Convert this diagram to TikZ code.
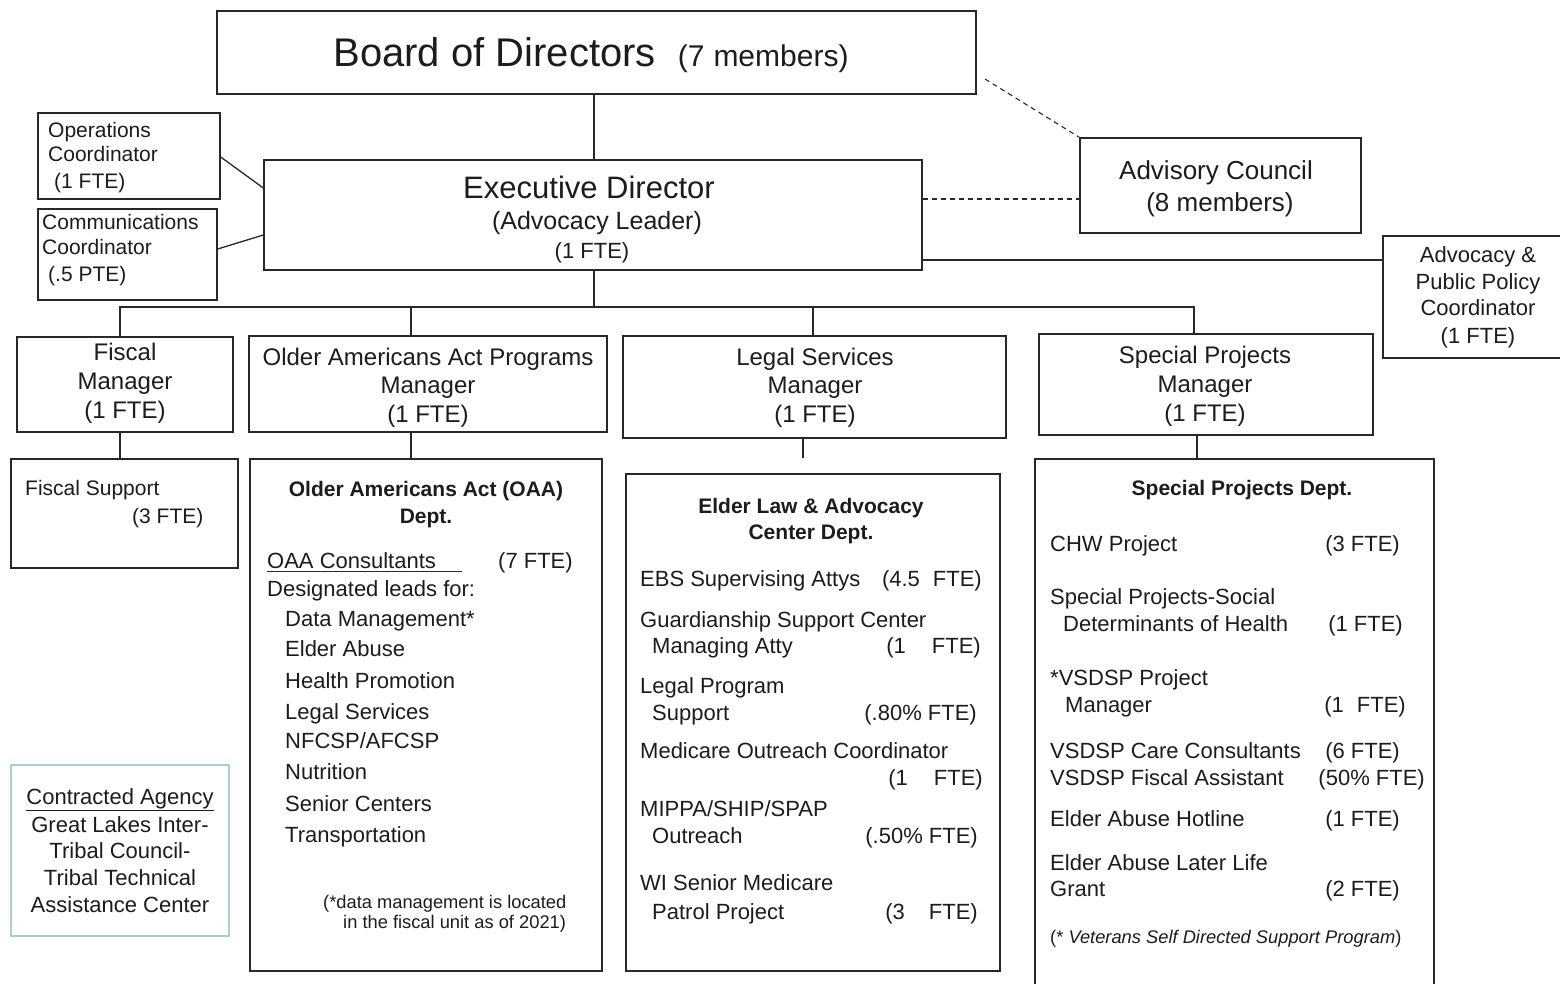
\documentclass[tikz,border=0pt]{standalone}
\usepackage{fontspec}
\setmainfont{Liberation Sans}
\usetikzlibrary{fit}
\definecolor{ink}{RGB}{28,28,28}
\definecolor{edge}{RGB}{40,40,40}
\definecolor{agency}{RGB}{168,206,212}
\newcommand\fsz[1]{\fontsize{#1pt}{#1pt}\selectfont}
\begin{document}
\begin{tikzpicture}[x=1pt,y=-1pt,
  box/.style={draw=edge, line width=1.4pt, inner sep=0pt},
  conn/.style={draw=edge, line width=1.3pt},
  dconn/.style={draw=edge, line width=1.1pt, dash pattern=on 5pt off 4pt},
  tl/.style={inner sep=0pt, anchor=base west, text=ink},
  tc/.style={inner sep=0pt, anchor=base, text=ink},
  tr/.style={inner sep=0pt, anchor=base east, text=ink},
]
\useasboundingbox (0,0) rectangle (1560,984);
\fill[white] (0,0) rectangle (1560,984);
\clip (0,0) rectangle (1560,984);

% ---------- boxes ----------
\node[box, fit={(217,11) (976,94)}] (board) {};
\node[box, fit={(264,160) (922,270)}] (exec) {};
\node[box, fit={(38,113) (220,199)}] (ops) {};
\node[box, fit={(38,209) (217,300)}] (comm) {};
\node[box, fit={(1080,138) (1361,233)}] (adv) {};
\node[box, fit={(1383,236) (1575,358)}] (app) {};
\node[box, fit={(17,337) (233,432)}] (fm) {};
\node[box, fit={(249,336) (607,432)}] (oaam) {};
\node[box, fit={(623,336) (1006,438)}] (lsm) {};
\node[box, fit={(1039,334) (1373,435)}] (spm) {};
\node[box, fit={(11,459) (238,568)}] (fs) {};
\node[box, fit={(250,459) (602,971)}] (oaad) {};
\node[box, fit={(626,474) (1000,971)}] (eld) {};
\node[box, fit={(1035,459) (1434,1000)}] (spd) {};
\node[box, draw=agency, line width=1.2pt, fit={(11,765) (229,936)}] (ca) {};

% ---------- connectors ----------
\draw[conn] (board.south -| 594,0) -- (exec.north -| 594,0);
\draw[conn] (ops.east |- 0,157) -- (exec.west |- 0,188);
\draw[conn] (comm.east |- 0,249) -- (exec.west |- 0,235);
\coordinate (bd) at (985,79);
\draw[dconn] (bd) -- (adv.north west);
\draw[dconn] (exec.east |- 0,199) -- (adv.west |- 0,199);
\draw[conn] (exec.east |- 0,260) -- (app.west |- 0,260);
\draw[conn] (exec.south -| 594,0) -- (594,307) coordinate (bus);
\draw[conn] (fm.north -| 120,0) |- (bus) -| (spm.north -| 1194,0);
\draw[conn] (bus -| 411,0) -- (oaam.north -| 411,0);
\draw[conn] (bus -| 813,0) -- (lsm.north -| 813,0);
\draw[conn] (fm.south -| 120,0) -- (fs.north -| 120,0);
\draw[conn] (oaam.south -| 411,0) -- (oaad.north -| 411,0);
\coordinate (lsend) at (803,458);
\draw[conn] (lsm.south -| 803,0) -- (lsend);
\draw[conn] (spm.south -| 1197,0) -- (spd.north -| 1197,0);

% ---------- top texts ----------
\node[tc] (tb) at (591,67) {\fsz{40}Board of Directors\hspace{22pt}\fsz{30}(7\hspace{9pt}members)};
\node[tc] (te1) at (589,199) {\fsz{31}Executive Director};
\node[tc] (te2) at (597,230) {\fsz{25}(Advocacy Leader)};
\node[tc] (te3) at (592,259) {\fsz{22}(1 FTE)};

\node[tl] (to1) at (48,138) {\fsz{21}Operations};
\node[tl] (to2) at (48,162) {\fsz{21}Coordinator};
\node[tl] (to3) at (54,189) {\fsz{21}(1 FTE)};
\node[tl] (tc1) at (42,230) {\fsz{21}Communications};
\node[tl] (tc2) at (42,255) {\fsz{21}Coordinator};
\node[tl] (tc3) at (48,281) {\fsz{21}(.5 PTE)};

\node[tc] (ta1) at (1216,180) {\fsz{26}Advisory Council};
\node[tc] (ta2) at (1220,212) {\fsz{26}(8 members)};

\node[tc] (tp1) at (1478,262) {\fsz{22}Advocacy \&};
\node[tc] (tp2) at (1478,289) {\fsz{22}Public Policy};
\node[tc] (tp3) at (1478,315) {\fsz{22}Coordinator};
\node[tc] (tp4) at (1478,343) {\fsz{22}(1 FTE)};

% ---------- managers ----------
\node[tc] (tf1) at (125,360) {\fsz{24}Fiscal};
\node[tc] (tf2) at (125,389) {\fsz{24}Manager};
\node[tc] (tf3) at (125,418) {\fsz{24}(1 FTE)};
\node[tc] (tm1) at (428,365) {\fsz{24}Older Americans Act Programs};
\node[tc] (tm2) at (428,393) {\fsz{24}Manager};
\node[tc] (tm3) at (428,422) {\fsz{24}(1 FTE)};
\node[tc] (tl1) at (815,365) {\fsz{24}Legal Services};
\node[tc] (tl2) at (815,393) {\fsz{24}Manager};
\node[tc] (tl3) at (815,422) {\fsz{24}(1 FTE)};
\node[tc] (ts1) at (1205,363) {\fsz{24}Special Projects};
\node[tc] (ts2) at (1205,392) {\fsz{24}Manager};
\node[tc] (ts3) at (1205,421) {\fsz{24}(1 FTE)};

% ---------- fiscal support ----------
\node[tl] (tfs1) at (25,495) {\fsz{21}Fiscal Support};
\node[tl] (tfs2) at (132,523) {\fsz{21}(3 FTE)};

% ---------- OAA dept ----------
\node[tc] (tod1) at (426,496) {\fsz{21}\bfseries Older Americans Act (OAA)};
\node[tc] (tod2) at (426,523) {\fsz{21}\bfseries Dept.};
\node[tl] (toc) at (267,568) {\fsz{22}OAA Consultants};
\draw[edge, line width=1pt] ([yshift=-3pt]toc.base west) -- ++(195,0);
\node[tl] (tocf) at (498,568) {\fsz{22}(7 FTE)};
\node[tl] (tdl) at (267,596) {\fsz{22}Designated leads for:};
\node[tl] (ti1) at (285,626) {\fsz{22}Data Management*};
\node[tl] (ti2) at (285,656) {\fsz{22}Elder Abuse};
\node[tl] (ti3) at (285,688) {\fsz{22}Health Promotion};
\node[tl] (ti4) at (285,719) {\fsz{22}Legal Services};
\node[tl] (ti5) at (285,748) {\fsz{22}NFCSP/AFCSP};
\node[tl] (ti6) at (285,779) {\fsz{22}Nutrition};
\node[tl] (ti7) at (285,811) {\fsz{22}Senior Centers};
\node[tl] (ti8) at (285,842) {\fsz{22}Transportation};
\node[tl] (tn1) at (323,908) {\fsz{18.3}(*data management is located};
\node[tl] (tn2) at (343,928) {\fsz{18.3}in the fiscal unit as of 2021)};

% ---------- Elder Law dept ----------
\node[tc] (te_h1) at (811,513) {\fsz{21}\bfseries Elder Law \& Advocacy};
\node[tc] (te_h2) at (811,539) {\fsz{21}\bfseries Center Dept.};
\node[tl] (tel1) at (640,586) {\fsz{22}EBS Supervising Attys};
\node[tr] (tel1f) at (982,586) {\fsz{22}(4.5\hspace{13pt}FTE)};
\node[tl] (tel2) at (640,627) {\fsz{22}Guardianship Support Center};
\node[tl] (tel2b) at (652,653) {\fsz{22}Managing Atty};
\node[tr] (tel2f) at (981,653) {\fsz{22}(1\hspace{26pt}FTE)};
\node[tl] (tel3) at (640,693) {\fsz{22}Legal Program};
\node[tl] (tel3b) at (652,720) {\fsz{22}Support};
\node[tr] (tel3f) at (977,720) {\fsz{22}(.80\% FTE)};
\node[tl] (tel4) at (640,758) {\fsz{22}Medicare Outreach Coordinator};
\node[tr] (tel4f) at (983,785) {\fsz{22}(1\hspace{26pt}FTE)};
\node[tl] (tel5) at (640,816) {\fsz{22}MIPPA/SHIP/SPAP};
\node[tl] (tel5b) at (652,843) {\fsz{22}Outreach};
\node[tr] (tel5f) at (978,843) {\fsz{22}(.50\% FTE)};
\node[tl] (tel6) at (640,890) {\fsz{22}WI Senior Medicare};
\node[tl] (tel6b) at (652,919) {\fsz{22}Patrol Project};
\node[tr] (tel6f) at (978,919) {\fsz{22}(3\hspace{24pt}FTE)};

% ---------- Special Projects dept ----------
\node[tc] (tsp_h) at (1242,495) {\fsz{21}\bfseries Special Projects Dept.};
\node[tl] (tsp1) at (1050,551) {\fsz{22}CHW Project};
\node[tr] (tsp1f) at (1400,551) {\fsz{22}(3 FTE)};
\node[tl] (tsp2) at (1050,604) {\fsz{22}Special Projects-Social};
\node[tl] (tsp2b) at (1063,631) {\fsz{22}Determinants of Health};
\node[tr] (tsp2f) at (1403,631) {\fsz{22}(1 FTE)};
\node[tl] (tsp3) at (1050,685) {\fsz{22}*VSDSP Project};
\node[tl] (tsp3b) at (1065,712) {\fsz{22}Manager};
\node[tr] (tsp3f) at (1406,712) {\fsz{22}(1\hspace{13pt}FTE)};
\node[tl] (tsp4) at (1050,758) {\fsz{22}VSDSP Care Consultants};
\node[tr] (tsp4f) at (1400,758) {\fsz{22}(6 FTE)};
\node[tl] (tsp5) at (1050,785) {\fsz{22}VSDSP Fiscal Assistant};
\node[tr] (tsp5f) at (1425,785) {\fsz{22}(50\% FTE)};
\node[tl] (tsp6) at (1050,826) {\fsz{22}Elder Abuse Hotline};
\node[tr] (tsp6f) at (1400,826) {\fsz{22}(1 FTE)};
\node[tl] (tsp7) at (1050,870) {\fsz{22}Elder Abuse Later Life};
\node[tl] (tsp7b) at (1050,896) {\fsz{22}Grant};
\node[tr] (tsp7f) at (1400,896) {\fsz{22}(2 FTE)};
\node[tl] (tsp8) at (1050,943) {\fsz{18.3}(* \itshape Veterans Self Directed Support Program\upshape)};

% ---------- contracted agency ----------
\node[tc] (tca1) at (120,804) {\fsz{22}\underline{Contracted Agency}};
\node[tc] (tca2) at (120,832) {\fsz{22}Great Lakes Inter-};
\node[tc] (tca3) at (120,858) {\fsz{22}Tribal Council-};
\node[tc] (tca4) at (120,885) {\fsz{22}Tribal Technical};
\node[tc] (tca5) at (120,912) {\fsz{22}Assistance Center};
\end{tikzpicture}
\end{document}
